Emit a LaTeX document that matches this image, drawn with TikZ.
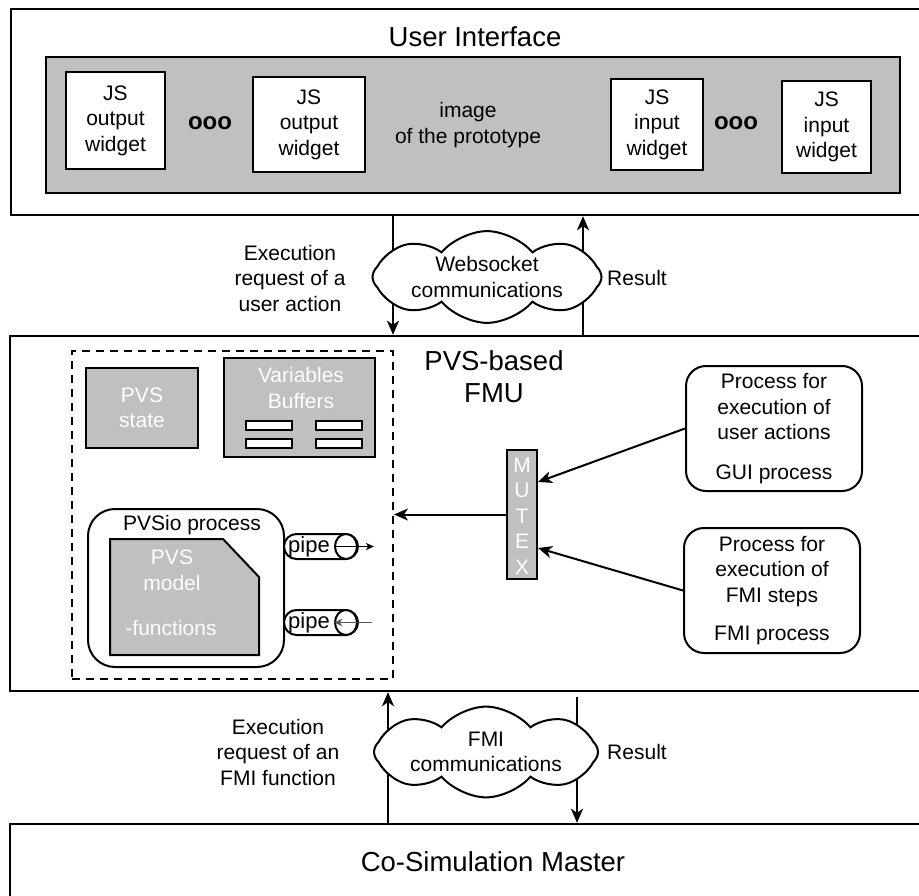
\documentclass[tikz,border=0pt]{standalone}
\usepackage{fontspec}
\setmainfont{Liberation Sans}
\usetikzlibrary{shapes.geometric,shapes.symbols,shapes.misc,arrows.meta,calc}
\definecolor{panel}{RGB}{192,192,192}
\definecolor{pipegray}{RGB}{85,85,85}
\begin{document}
\begin{tikzpicture}[x=1pt,y=-1pt,
  layer/.style={draw,line width=2.4pt,fill=white,inner sep=0pt},
  graybox/.style={draw,line width=2pt,fill=panel,inner sep=0pt},
  widget/.style={draw,line width=2pt,fill=white,inner sep=0pt,align=center,
    font={\fontsize{21}{25.5}\selectfont}},
  txt/.style={align=center,inner sep=0pt,font={\fontsize{21}{25.5}\selectfont}},
  ttl/.style={align=center,inner sep=0pt,font={\fontsize{27.5}{32}\selectfont}},
  dotsym/.style={inner sep=0pt,font={\fontsize{24}{24}\selectfont\bfseries}},
  slot/.style={draw,line width=2pt,fill=white,inner sep=0pt,minimum width=46pt,minimum height=9pt},
  proc/.style={draw,line width=2pt,fill=white,rounded corners=20pt,inner sep=0pt,align=center,
    font={\fontsize{21}{25.5}\selectfont}},
  flow/.style={line width=2pt,-{Stealth[length=14pt,width=12pt,inset=4pt]}},
  pipeflow/.style={line width=1.3pt,-{Stealth[length=8pt,width=7pt,inset=2pt]}},
  comm/.style={cloud,cloud puffs=8,cloud puff arc=100,cloud ignores aspect,draw,fill=white,line width=2pt,
    inner sep=0pt,align=center,font={\fontsize{21}{25.5}\selectfont}},
  pipebody/.style={rounded rectangle,draw,fill=white,line width=2pt,inner sep=0pt,
    minimum width=74pt,minimum height=25pt},
  pipecap/.style={ellipse,draw,fill=white,line width=2pt,inner sep=0pt,
    minimum width=22pt,minimum height=25pt},
  pipelabel/.style={inner sep=0pt,font={\fontsize{22}{22}\selectfont}}
]
\clip (0,0) rectangle (919,896);
\fill[white] (0,0) rectangle (919,896);

% ---------- user interface layer ----------
\node[layer,minimum width=924pt,minimum height=206pt] (ui) at (473,112) {};
\node[ttl] (uititle) at (475,37) {User Interface};
\node[graybox,minimum width=854pt,minimum height=136pt] (proto) at (473,125) {};
\node[widget,minimum width=99pt,minimum height=97pt] (w1) at (115.5,120.5) {JS\\output\\widget};
\node[dotsym] (dots1) at (210,123) {ooo};
\node[widget,minimum width=112pt,minimum height=95pt] (w2) at (309,124.5) {JS\\output\\widget};
\node[txt] (image) at (468,125) {image\\of the prototype};
\node[widget,minimum width=92pt,minimum height=91pt] (w3) at (657,124.5) {JS\\input\\widget};
\node[dotsym] (dots2) at (736,123) {ooo};
\node[widget,minimum width=89pt,minimum height=92pt] (w4) at (826.5,127) {JS\\input\\widget};

% ---------- FMU layer ----------
\node[layer,minimum width=970pt,minimum height=355pt] (fmu) at (495,513.5) {};
\node[ttl] (fmutitle) at (494,377) {PVS-based\\FMU};
\node[draw,line width=2pt,dash pattern=on 8pt off 6pt,minimum width=321pt,minimum height=328pt,inner sep=0pt] (core) at (232.5,515) {};

\node[graybox,minimum width=112pt,minimum height=80pt,txt,text=white] (state) at (142,408) {PVS\\state};
\node[graybox,minimum width=151pt,minimum height=99pt] (buffers) at (299.5,407.5) {};
\node[txt,text=white] (buftitle) at (301,388) {Variables\\Buffers};
\node[slot] (s1) at (269,425.5) {};
\node[slot] (s2) at (339,425.5) {};
\node[slot] (s3) at (269,443.5) {};
\node[slot] (s4) at (339,443.5) {};

\node[proc,minimum width=196pt,minimum height=158pt,rounded corners=27pt] (pvsio) at (186,588) {};
\node[txt] (pvsiotitle) at (192,525) {PVSio process};
\draw[line width=2pt,fill=panel] (110,539) -- (223,539) -- (259,577) -- (259,655) -- (110,655) -- cycle;
\node[txt,text=white] (modeltext) at (172,570.5) {PVS\\model};
\node[txt,text=white] (modelfn) at (171,628) {-functions};

% pipes: a capsule body with an open end drawn as an ellipse
\node[pipebody] (pipe1) at (321,546.5) {};
\node[pipecap] (cap1) at (346,546.5) {};
\node[pipelabel] (pipe1text) at (309,547) {pipe};
\node[pipebody] (pipe2) at (321,622.5) {};
\node[pipecap] (cap2) at (346,622.5) {};
\node[pipelabel] (pipe2text) at (309,623) {pipe};
\coordinate (p1out) at (374,546.5);
\coordinate (p2in) at (372,622.5);
\draw[pipeflow] (cap1.west) -- (p1out);
\draw[pipeflow,draw=pipegray] (p2in) -- (cap2.west);

\node[graybox,minimum width=30pt,minimum height=129pt] (mutex) at (522,514.5) {};
\node[txt,text=white] (mutextext) at (522,516) {M\\U\\T\\E\\X};
\draw[flow] (mutex.west) -- (core.east |- mutex.west);

\node[proc,minimum width=176pt,minimum height=125pt] (gui) at (774,428.5)
  {Process for\\execution of\\user actions\\[14pt]GUI process};
\node[proc,minimum width=176pt,minimum height=125pt] (fmi) at (772,590.5)
  {Process for\\execution of\\FMI steps\\[12.5pt]FMI process};
\draw[flow] (gui.west) -- ([yshift=32.5pt]mutex.east);
\draw[flow] (fmi.west) -- ([yshift=-33.5pt]mutex.east);

% ---------- co-simulation master ----------
\node[layer,minimum width=970pt,minimum height=86pt] (master) at (495,867) {};
\node[ttl] (mastertitle) at (493,862) {Co-Simulation Master};

% ---------- websocket link ----------
\coordinate (reqx) at (393,0);
\coordinate (resx) at (583,0);
\draw[flow] (ui.south -| reqx) -- (fmu.north -| reqx);
\draw[flow] (fmu.north -| resx) -- (ui.south -| resx);
\node[comm,minimum width=229pt,minimum height=81pt] (ws) at (487,277) {Websocket\\communications};
\node[txt] (wsreq) at (290,278) {Execution\\request of a\\user action};
\node[txt] (wsres) at (637,278) {Result};

% ---------- FMI link ----------
\coordinate (fmireqx) at (388,0);
\coordinate (fmiresstart) at (577,697);
\draw[flow] (master.north -| fmireqx) -- (fmu.south -| fmireqx);
\draw[flow] (fmiresstart) -- (master.north -| fmiresstart);
\node[comm,minimum width=224pt,minimum height=84pt] (fmic) at (486,752) {FMI\\communications};
\node[txt] (fmireq) at (278,752) {Execution\\request of an\\FMI function};
\node[txt] (fmires) at (637,752) {Result};
\end{tikzpicture}
\end{document}
